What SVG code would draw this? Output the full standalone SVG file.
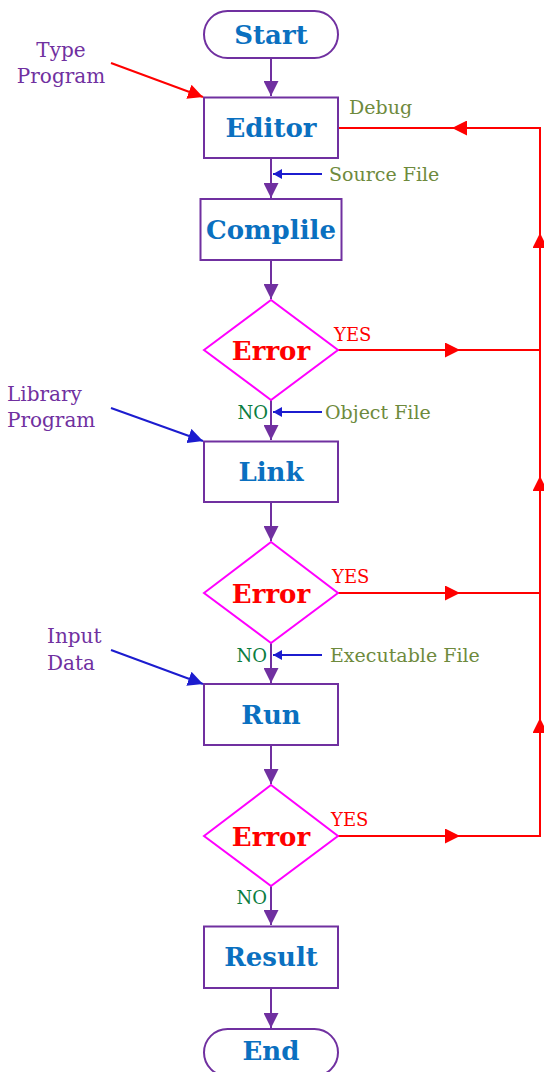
<svg xmlns="http://www.w3.org/2000/svg" width="544" height="1072" viewBox="0 0 544 1072">
<defs>
<style>
.box{fill:#fff;stroke:#7030A0;stroke-width:2}
.dia{fill:#fff;stroke:#FF00FF;stroke-width:2}
.nt{font-family:"DejaVu Serif",serif;font-weight:bold;font-size:26px;fill:#0A70C0;text-anchor:middle}
.et{font-family:"DejaVu Serif",serif;font-weight:bold;font-size:26px;fill:#FF0000;text-anchor:middle}
.lbl{font-family:"DejaVu Serif",serif;font-size:19px;fill:#6E8A3D}
.pl{font-family:"DejaVu Serif",serif;font-size:20px;fill:#7030A0}
.yes{font-family:"DejaVu Serif",serif;font-size:18px;fill:#FF0000}
.no{font-family:"DejaVu Serif",serif;font-size:18px;fill:#0B7D3F;text-anchor:end}
.cp{fill:none;stroke:#7030A0;stroke-width:2}
.cr{fill:none;stroke:#FF0000;stroke-width:2}
.cb{fill:none;stroke:#1C1CCF;stroke-width:2}
</style>
<marker id="ap" markerUnits="userSpaceOnUse" markerWidth="16" markerHeight="15" refX="15" refY="7.5" orient="auto"><path d="M0,0 L15,7.5 L0,15 Z" fill="#7030A0"/></marker>
<marker id="ar" markerUnits="userSpaceOnUse" markerWidth="16" markerHeight="15" refX="15" refY="7.5" orient="auto"><path d="M0,0 L15,7.5 L0,15 Z" fill="#FF0000"/></marker>
<marker id="ab" markerUnits="userSpaceOnUse" markerWidth="16" markerHeight="15" refX="15" refY="7.5" orient="auto"><path d="M0,0 L15,7.5 L0,15 Z" fill="#1C1CCF"/></marker>
<marker id="abs" markerUnits="userSpaceOnUse" markerWidth="10" markerHeight="10" refX="9" refY="5" orient="auto"><path d="M0,0 L9,5 L0,10 Z" fill="#1C1CCF"/></marker>
</defs>
<rect width="544" height="1072" fill="#fff"/>
<g id="connectors">
<path class="cp" d="M271,58 L271,96" marker-end="url(#ap)"/>
<path class="cp" d="M271,158 L271,198" marker-end="url(#ap)"/>
<path class="cp" d="M271,260 L271,299" marker-end="url(#ap)"/>
<path class="cp" d="M271,400 L271,440" marker-end="url(#ap)"/>
<path class="cp" d="M271,502 L271,541" marker-end="url(#ap)"/>
<path class="cp" d="M271,642 L271,683" marker-end="url(#ap)"/>
<path class="cp" d="M271,745 L271,784" marker-end="url(#ap)"/>
<path class="cp" d="M271,886 L271,925" marker-end="url(#ap)"/>
<path class="cp" d="M271,988 L271,1028" marker-end="url(#ap)"/>
<path class="cr" d="M111,63 L203,97" marker-end="url(#ar)"/>
<path class="cb" d="M111,408 L203,441" marker-end="url(#ab)"/>
<path class="cb" d="M111,650 L203,684" marker-end="url(#ab)"/>
<path class="cb" d="M322,174 L273,174" marker-end="url(#abs)"/>
<path class="cb" d="M322,412 L273,412" marker-end="url(#abs)"/>
<path class="cb" d="M322,655 L273,655" marker-end="url(#abs)"/>
<path class="cr" d="M338,350 L460,350 L541,350" marker-mid="url(#ar)"/>
<path class="cr" d="M338,593 L460,593 L541,593" marker-mid="url(#ar)"/>
<path class="cr" d="M338,836 L460,836 L541,836" marker-mid="url(#ar)"/>
<path class="cr" d="M540,837 L540,718 L540,476 L540,233 L540,127" marker-mid="url(#ar)"/>
<path class="cr" d="M541,128 L452,128 L339,128" marker-mid="url(#ar)"/>
</g>
<g id="start"><rect class="box" x="204" y="11" width="134" height="47" rx="23.5"/><text class="nt" x="271" y="44">Start</text></g>
<g id="editor"><rect class="box" x="204" y="97.5" width="134" height="60.5"/><text class="nt" x="271" y="137">Editor</text></g>
<g id="compile"><rect class="box" x="200.5" y="199" width="141" height="61"/><text class="nt" x="271" y="239">Complile</text></g>
<g id="error1"><path class="dia" d="M204,350 L271,300 L338,350 L271,400 Z"/><text class="et" x="271" y="360">Error</text></g>
<g id="link"><rect class="box" x="204" y="441.5" width="134" height="60.5"/><text class="nt" x="271" y="481">Link</text></g>
<g id="error2"><path class="dia" d="M204,593 L271,542 L338,593 L271,643 Z"/><text class="et" x="271" y="603">Error</text></g>
<g id="run"><rect class="box" x="204" y="684" width="134" height="61"/><text class="nt" x="271" y="724">Run</text></g>
<g id="error3"><path class="dia" d="M204,836 L271,785 L338,836 L271,886 Z"/><text class="et" x="271" y="846">Error</text></g>
<g id="result"><rect class="box" x="204" y="926.5" width="134" height="61.5"/><text class="nt" x="271" y="966">Result</text></g>
<g id="end"><rect class="box" x="204" y="1029" width="134" height="47" rx="23.5"/><text class="nt" x="271" y="1060">End</text></g>
<g id="labels">
<text class="pl" x="61" y="57" text-anchor="middle">Type</text>
<text class="pl" x="61" y="83" text-anchor="middle">Program</text>
<text class="pl" x="7" y="401">Library</text>
<text class="pl" x="7" y="427">Program</text>
<text class="pl" x="47" y="643">Input</text>
<text class="pl" x="47" y="670">Data</text>
<text class="lbl" x="349" y="114">Debug</text>
<text class="lbl" x="329" y="181">Source File</text>
<text class="lbl" x="325" y="419">Object File</text>
<text class="lbl" x="330" y="662">Executable File</text>
<text class="yes" x="334" y="341">YES</text>
<text class="yes" x="332" y="583">YES</text>
<text class="yes" x="331" y="826">YES</text>
<text class="no" x="268" y="419">NO</text>
<text class="no" x="267" y="662">NO</text>
<text class="no" x="267" y="904">NO</text>
</g>
</svg>
